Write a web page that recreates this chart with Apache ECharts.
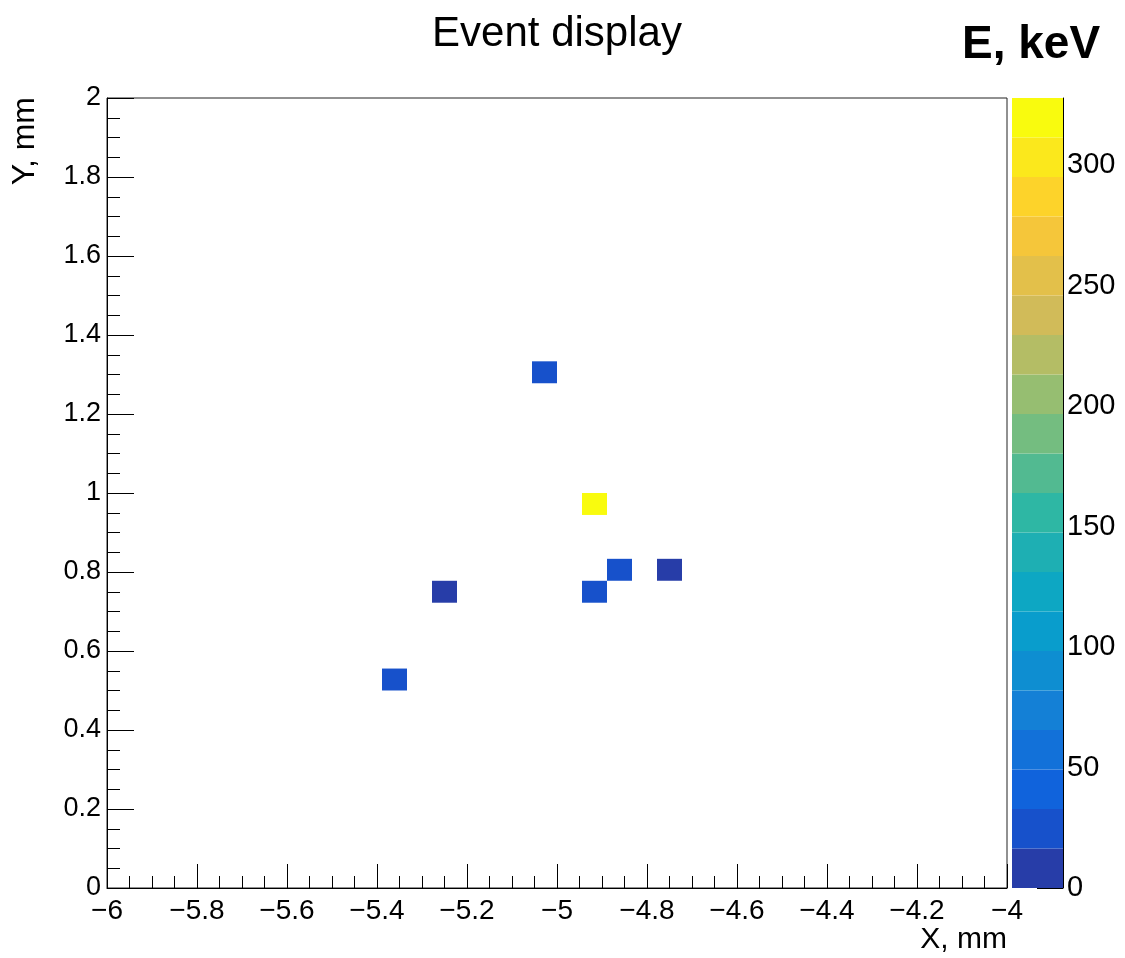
<!DOCTYPE html>
<html>
<head>
<meta charset="utf-8">
<script src="https://cdn.jsdelivr.net/npm/echarts@6/dist/echarts.min.js"></script>
<style>html,body{margin:0;padding:0;background:#fff}#c{width:1125px;height:958px}</style>
</head>
<body>
<div id="c"></div>
<script>
// ---- data ----
const cellX = [-5.3611, -5.25, -5.0278, -4.9167, -4.9167, -4.8611, -4.75];   // bin centres, mm
const cellY = [0.5278, 0.75, 1.3056, 0.9722, 0.75, 0.8056, 0.8056];         // bin centres, mm
const cellE = [25, 9, 26, 328, 24, 27, 8];                                     // energy, keV
const zTicks = [0, 50, 100, 150, 200, 250, 300];
const zMin = 0, zMax = 328;
const nBands = 20;
const binW = 2 / 36, binH = 2 / 36;

// ---- ROOT kBird palette ----
const bStops = [0.0, 0.125, 0.25, 0.375, 0.5, 0.625, 0.75, 0.875, 1.0];
const bRed   = [0.2082, 0.0592, 0.0780, 0.0232, 0.1802, 0.5301, 0.8186, 0.9956, 0.9764];
const bGreen = [0.1664, 0.3599, 0.5041, 0.6419, 0.7178, 0.7492, 0.7328, 0.7862, 0.9832];
const bBlue  = [0.5293, 0.8684, 0.8385, 0.7914, 0.6425, 0.4662, 0.3499, 0.1968, 0.0539];
function bird(t) {
  let g = 1;
  while (g < bStops.length - 1 && t > bStops[g]) g++;
  const f = (t - bStops[g - 1]) / (bStops[g] - bStops[g - 1]);
  const c = a => Math.round(255 * (a[g - 1] + f * (a[g] - a[g - 1])));
  return 'rgb(' + c(bRed) + ',' + c(bGreen) + ',' + c(bBlue) + ')';
}
const bandColors = [];
for (let i = 0; i < nBands; i++) {
  const idx = Math.floor((i + 0.99) * 255 / nBands);
  bandColors.push(bird(Math.min(idx, 254) / 254));
}
function colorFor(v) {
  let b = Math.floor((v - zMin) / (zMax - zMin) * nBands);
  b = Math.max(0, Math.min(nBands - 1, b));
  return bandColors[b];
}
const bandData = [];
for (let i = 0; i < nBands; i++) {
  bandData.push([zMin + i * (zMax - zMin) / nBands, zMin + (i + 1) * (zMax - zMin) / nBands, i]);
}
const cellData = cellX.map((x, i) => [x, cellY[i], cellE[i]]);

const font = '"Liberation Sans", Arial, Helvetica, sans-serif';
function fmt(v) {
  const r = Math.round(v * 10) / 10;
  return String(r).replace('-', '\u2212');
}
const black = '#000';

const chart = echarts.init(document.getElementById('c'), null, {renderer: 'canvas'});
chart.setOption({
  animation: false,
  backgroundColor: '#fff',
  textStyle: {fontFamily: font},
  grid: [
    {left: 107, top: 98, width: 900, height: 790, show: true, borderColor: '#222', borderWidth: 1, backgroundColor: 'transparent'},
    {left: 1012, top: 98, width: 51, height: 790}
  ],
  xAxis: [
    {
      type: 'value', gridIndex: 0, min: -6, max: -4, interval: 0.2,
      axisLine: {onZero: false, lineStyle: {color: black, width: 1}},
      axisTick: {inside: true, length: 24, lineStyle: {color: black, width: 1}},
      minorTick: {show: true, splitNumber: 4, length: 12, lineStyle: {color: black, width: 1}},
      splitLine: {show: false},
      axisLabel: {formatter: fmt, fontSize: 28, color: black, margin: 9, fontFamily: font}
    },
    {type: 'value', gridIndex: 1, min: 0, max: 1, show: false}
  ],
  yAxis: [
    {
      type: 'value', gridIndex: 0, min: 0, max: 2, interval: 0.2,
      axisLine: {onZero: false, lineStyle: {color: black, width: 1}},
      axisTick: {inside: true, length: 27, lineStyle: {color: black, width: 1}},
      minorTick: {show: true, splitNumber: 4, length: 13, lineStyle: {color: black, width: 1}},
      splitLine: {show: false},
      axisLabel: {formatter: fmt, fontSize: 27, color: black, margin: 6, fontFamily: font}
    },
    {
      type: 'value', gridIndex: 1, min: zMin, max: zMax, position: 'right',
      axisLine: {show: true, onZero: false, lineStyle: {color: black, width: 1}},
      axisTick: {show: true, inside: true, length: 26, customValues: zTicks, lineStyle: {color: black, width: 1}},
      axisLabel: {show: true, customValues: zTicks, fontSize: 29, color: black, margin: 4, fontFamily: font},
      splitLine: {show: false}
    }
  ],
  series: [
    {
      type: 'custom', xAxisIndex: 0, yAxisIndex: 0, data: cellData,
      encode: {x: 0, y: 1},
      renderItem: function (params, api) {
        const x = api.value(0), y = api.value(1), v = api.value(2);
        const p0 = api.coord([x - binW / 2, y + binH / 2]);
        const p1 = api.coord([x + binW / 2, y - binH / 2]);
        return {type: 'rect', shape: {x: p0[0], y: p0[1], width: p1[0] - p0[0], height: p1[1] - p0[1]}, style: {fill: colorFor(v)}};
      }
    },
    {
      type: 'custom', xAxisIndex: 1, yAxisIndex: 1, data: bandData,
      encode: {y: [0, 1]},
      renderItem: function (params, api) {
        const lo = api.value(0), hi = api.value(1), i = api.value(2);
        const p0 = api.coord([0, hi]);
        const p1 = api.coord([1, lo]);
        return {type: 'rect', shape: {x: p0[0], y: p0[1], width: p1[0] - p0[0], height: p1[1] - p0[1]}, style: {fill: bandColors[i]}};
      }
    }
  ],
  graphic: [
    {type: 'text', x: 557, y: 34, style: {text: 'Event display', font: '42px ' + font, fill: black, align: 'center', verticalAlign: 'middle'}},
    {type: 'text', x: 962, y: 45, style: {text: 'E, keV', font: 'bold 46px ' + font, fill: black, align: 'left', verticalAlign: 'middle'}},
    {type: 'text', x: 1007, y: 940, style: {text: 'X, mm', font: '30px ' + font, fill: black, align: 'right', verticalAlign: 'middle'}},
    {type: 'text', x: 25, y: 97, rotation: Math.PI / 2, style: {text: 'Y, mm', font: '32px ' + font, fill: black, align: 'right', verticalAlign: 'middle'}}
  ]
});
</script>
</body>
</html>
